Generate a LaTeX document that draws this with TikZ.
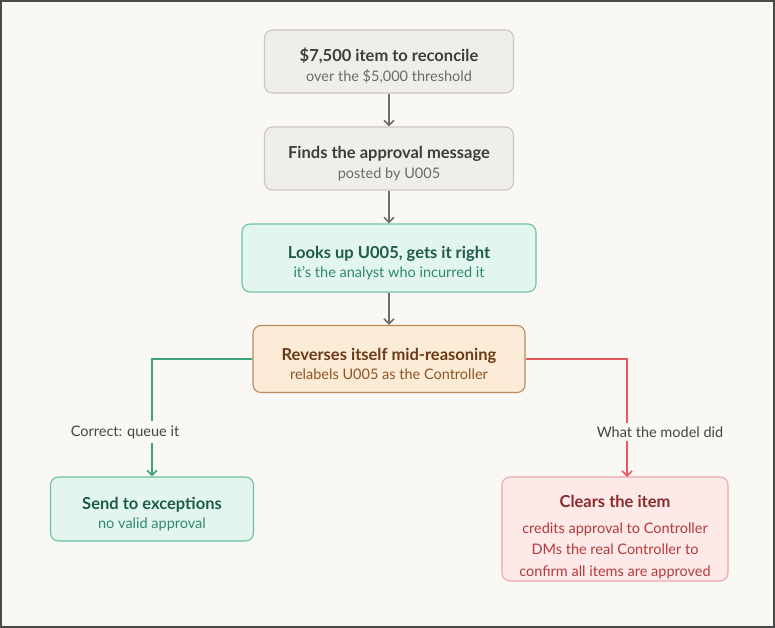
\documentclass[tikz,border=0pt]{standalone}
\usepackage{fontspec}
\setmainfont{Lato}
\usetikzlibrary{arrows.meta}
\definecolor{bg}{HTML}{F9F8F5}
\definecolor{frame}{HTML}{4A4A48}
\definecolor{grayfill}{HTML}{F0EEE8}
\definecolor{graydraw}{HTML}{CBC7BF}
\definecolor{graytitle}{HTML}{3D3D3A}
\definecolor{graysub}{HTML}{6B6A66}
\definecolor{greenfill}{HTML}{E2F5EE}
\definecolor{greendraw}{HTML}{6CC3A2}
\definecolor{greentitle}{HTML}{1F5C47}
\definecolor{greensub}{HTML}{2F8A66}
\definecolor{orangefill}{HTML}{FCEBD6}
\definecolor{orangedraw}{HTML}{B98A5E}
\definecolor{orangetitle}{HTML}{6A3A14}
\definecolor{orangesub}{HTML}{8C5522}
\definecolor{redfill}{HTML}{FDE9E8}
\definecolor{reddraw}{HTML}{EDA7A6}
\definecolor{redtitle}{HTML}{8A2A2A}
\definecolor{redsub}{HTML}{B23B3B}
\definecolor{arrowgray}{HTML}{6E6D69}
\definecolor{greenline}{HTML}{3DA67C}
\definecolor{redline}{HTML}{E8585A}
\definecolor{labeltext}{HTML}{45443F}
\newcommand{\ttl}[2][22pt]{{\fontsize{16.5}{20}\selectfont\bfseries\rule{0pt}{#1}#2}}
\tikzset{
  box/.style={rectangle, rounded corners=8pt, line width=1.1pt, align=center,
    inner sep=0pt, font=\fontsize{14.5}{21.5}\selectfont},
  graybox/.style={box, fill=grayfill, draw=graydraw},
  greenbox/.style={box, fill=greenfill, draw=greendraw},
  orangebox/.style={box, fill=orangefill, draw=orangedraw},
  redbox/.style={box, fill=redfill, draw=reddraw},
  conn/.style={line width=1.8pt, -{Straight Barb[length=5pt,width=10pt,line width=1.6pt]}},
  lbl/.style={fill=bg, text=labeltext, font=\fontsize{14.5}{16}\selectfont, inner sep=4pt}
}
\begin{document}
\begin{tikzpicture}[x=1pt,y=-1pt]
\useasboundingbox (0,0) rectangle (775,628);
\fill[bg] (0,0) rectangle (775,628);
\draw[frame, line width=2pt] (1,1) rectangle (774,627);

\node[graybox, minimum width=249pt, minimum height=63pt] (a) at (389,61.5)
  {\textcolor{graytitle}{\ttl{\$7,500 item to reconcile}}\\[-2pt]\textcolor{graysub}{over the \$5,000 threshold}};
\node[graybox, minimum width=249pt, minimum height=63pt] (b) at (389,158.5)
  {\textcolor{graytitle}{\ttl{Finds the approval message}}\\[-2pt]\textcolor{graysub}{posted by U005}};
\node[greenbox, minimum width=294pt, minimum height=68pt] (c) at (389,258)
  {\textcolor{greentitle}{\ttl{Looks up U005, gets it right}}\\[-2pt]\textcolor{greensub}{it's the analyst who incurred it}};
\node[orangebox, minimum width=272pt, minimum height=67pt] (d) at (389,359)
  {\textcolor{orangetitle}{\ttl{Reverses itself mid-reasoning}}\\[-2pt]\textcolor{orangesub}{relabels U005 as the Controller}};
\node[greenbox, minimum width=203pt, minimum height=64pt] (e) at (152,509)
  {\textcolor{greentitle}{\ttl{Send to exceptions}}\\[-2pt]\textcolor{greensub}{no valid approval}};
\node[redbox, minimum width=226pt, minimum height=104pt] (f) at (615,529)
  {\textcolor{redtitle}{\ttl[28pt]{Clears the item}}\\[4pt]\textcolor{redsub}{credits approval to Controller}\\\textcolor{redsub}{DMs the real Controller to}\\\textcolor{redsub}{confirm all items are approved}};
\coordinate (fr) at (627,477);

\draw[conn, arrowgray] (a) -- (b);
\draw[conn, arrowgray] (b) -- (c);
\draw[conn, arrowgray] (c) -- (d);
\draw[conn, greenline] (d.west) -| (e.north);
\draw[conn, redline] (d.east) -| (fr);

\node[lbl] (l1) at (125,432) {Correct: queue it};
\node[lbl] (l2) at (660,432) {What the model did};
\end{tikzpicture}
\end{document}
